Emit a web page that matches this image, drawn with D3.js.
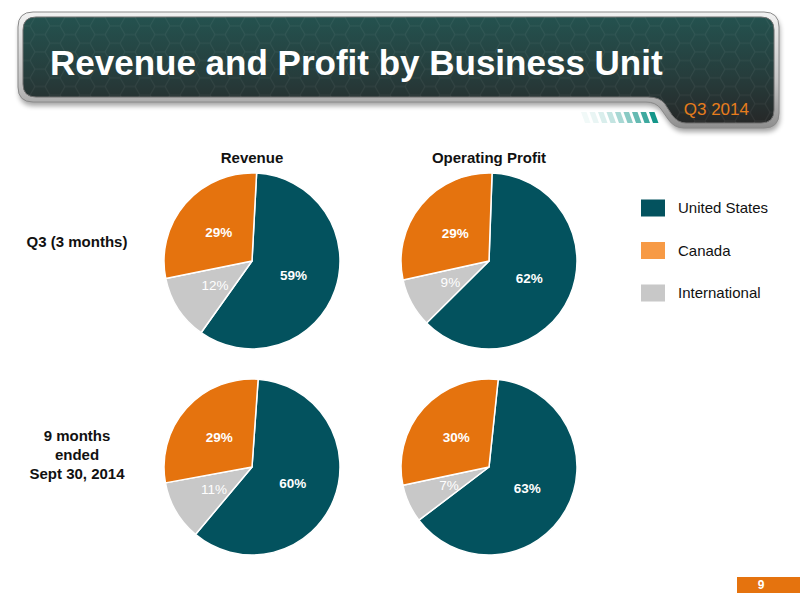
<!DOCTYPE html>
<html>
<head>
<meta charset="utf-8">
<script src="https://cdn.jsdelivr.net/npm/d3@7"></script>
<style>
  html, body { margin: 0; padding: 0; background: #ffffff; }
  svg { display: block; font-family: "Liberation Sans", Arial, Helvetica, sans-serif; }
</style>
</head>
<body>
<svg id="chart" width="800" height="600"></svg>
<script>
// ---- data ----
const title = "Revenue and Profit by Business Unit";
const subtitle = "Q3 2014";
const pageNumber = "9";
const units = ["United States", "International", "Canada"];      // clockwise slice order
const legendOrder = ["United States", "Canada", "International"];
const columns = ["Revenue", "Operating Profit"];
const rows = ["Q3 (3 months)", "9 months ended Sept 30, 2014"];
const rowLabelLines = [["Q3 (3 months)"], ["9 months", "ended", "Sept 30, 2014"]];
const revenueQ3 = [59, 12, 29];
const profitQ3 = [62, 9, 29];
const revenue9M = [60, 11, 29];
const profit9M = [63, 7, 30];
const firstSliceAngle = [3, 2, 4, 6]; // degrees, per pie
const pies = [
  { row: rows[0], col: columns[0], values: revenueQ3 },
  { row: rows[0], col: columns[1], values: profitQ3 },
  { row: rows[1], col: columns[0], values: revenue9M },
  { row: rows[1], col: columns[1], values: profit9M }
];

// ---- styles ----
const pieColor = d3.scaleOrdinal().domain(units).range(["#03525e", "#c8c8c8", "#e5730e"]);
const legendColor = d3.scaleOrdinal().domain(units).range(["#03525e", "#c8c8c8", "#f79a45"]);

const svg = d3.select("#chart");
const defs = svg.append("defs");

// ---- header ----
const panelGrad = defs.append("linearGradient").attr("id", "panelGrad")
  .attr("x1", 0).attr("y1", 0).attr("x2", 0).attr("y2", 1);
panelGrad.append("stop").attr("offset", "0%").attr("stop-color", "#24524f");
panelGrad.append("stop").attr("offset", "55%").attr("stop-color", "#263d3c");
panelGrad.append("stop").attr("offset", "100%").attr("stop-color", "#262828");

const frameGrad = defs.append("linearGradient").attr("id", "frameGrad")
  .attr("x1", 0).attr("y1", 0).attr("x2", 0).attr("y2", 1);
frameGrad.append("stop").attr("offset", "0%").attr("stop-color", "#f2f2f2");
frameGrad.append("stop").attr("offset", "60%").attr("stop-color", "#c4c4c4");
frameGrad.append("stop").attr("offset", "100%").attr("stop-color", "#8e8e8e");

const shadow = defs.append("filter").attr("id", "shadow")
  .attr("x", "-5%").attr("y", "-10%").attr("width", "110%").attr("height", "130%");
shadow.append("feGaussianBlur").attr("in", "SourceAlpha").attr("stdDeviation", 2.5);

// hexagon pattern
const hex = defs.append("pattern").attr("id", "hex").attr("patternUnits", "userSpaceOnUse")
  .attr("width", 30).attr("height", 17.3);
hex.append("path")
  .attr("d", "M0,8.66 L5,0 L15,0 L20,8.66 L15,17.32 L5,17.32 Z M20,8.66 L30,8.66")
  .attr("fill", "none").attr("stroke", "rgba(255,255,255,0.06)").attr("stroke-width", 1);

const outerPath = "M33,12 H764 Q779,12 779,27 V113 Q779,128 764,128 H684 Q674,128 668,119 L661,109 Q656,102 646,102 H33 Q18,102 18,87 V27 Q18,12 33,12 Z";
const innerPath = "M36,17 H761 Q774,17 774,30 V110 Q774,123 761,123 H686 Q678,123 672,115 L665,104 Q660,97 648,97 H36 Q23,97 23,84 V30 Q23,17 36,17 Z";

svg.append("path").attr("d", outerPath).attr("transform", "translate(1,4)")
  .attr("fill", "#000").attr("opacity", 0.35).attr("filter", "url(#shadow)");
svg.append("path").attr("d", outerPath).attr("fill", "url(#frameGrad)")
  .attr("stroke", "#8a8a8a").attr("stroke-width", 1);
svg.append("path").attr("d", innerPath).attr("fill", "url(#panelGrad)")
  .attr("stroke", "#6e6e6e").attr("stroke-width", 1);
svg.append("path").attr("d", innerPath).attr("fill", "url(#hex)");

// stripes (decoration)
const stripeIdx = d3.range(9);
svg.append("g").selectAll("path").data(stripeIdx).join("path")
  .attr("d", i => {
    const sx = 585 + i * 8.5;
    return `M${sx},123 L${sx + 5.5},123 L${sx + 1.5},112 L${sx - 4},112 Z`;
  })
  .attr("fill", "#14968a")
  .attr("opacity", i => 0.06 + 0.94 * Math.pow(i / 8, 1.6));

svg.append("text").attr("x", 50).attr("y", 75)
  .attr("fill", "#ffffff").attr("font-size", 35).attr("font-weight", "bold")
  .text(title);
svg.append("text").attr("x", 749).attr("y", 115).attr("text-anchor", "end")
  .attr("fill", "#e77d1c").attr("font-size", 17)
  .text(subtitle);

// ---- grid scales ----
const x = d3.scalePoint().domain(columns).range([252, 489]);
const y = d3.scalePoint().domain(rows).range([261, 467]);
const radius = 88;

svg.append("g").selectAll("text").data(columns).join("text")
  .attr("x", d => x(d)).attr("y", 163).attr("text-anchor", "middle")
  .attr("font-size", 15).attr("font-weight", "bold").attr("fill", "#111")
  .text(d => d);

const rowLabelY = [242, 436];
rows.forEach((r, ri) => {
  const t = svg.append("text").attr("x", 77).attr("text-anchor", "middle")
    .attr("font-size", 15).attr("font-weight", "bold").attr("fill", "#111");
  rowLabelLines[ri].forEach((line, li) => {
    t.append("tspan").attr("x", 77).attr("y", rowLabelY[ri] + 5 + li * 19).text(line);
  });
});

// ---- pies ----
const arc = d3.arc().innerRadius(0).outerRadius(radius);
pies.forEach((p, pi) => {
  const start = firstSliceAngle[pi] * Math.PI / 180;
  const pie = d3.pie().sort(null).value(d => d.v)
    .startAngle(start).endAngle(start + 2 * Math.PI);
  const arcs = pie(units.map((u, i) => ({ u, v: p.values[i] })));
  const g = svg.append("g").attr("transform", `translate(${x(p.col)},${y(p.row)})`);
  g.selectAll("path").data(arcs).join("path")
    .attr("d", arc)
    .attr("fill", d => pieColor(d.data.u))
    .attr("stroke", "#ffffff").attr("stroke-width", 1.5).attr("stroke-linejoin", "round");
  g.selectAll("text").data(arcs).join("text")
    .attr("transform", d => `translate(${arc.centroid(d)})`)
    .attr("text-anchor", "middle").attr("dy", "0.35em")
    .attr("font-size", 13.5)
    .attr("font-weight", d => d.data.u === "International" ? "normal" : "bold")
    .attr("fill", "#ffffff")
    .text(d => d.data.v + "%");
});

// ---- legend ----
const ly = d3.scalePoint().domain(legendOrder).range([208, 293]);
const lg = svg.append("g");
lg.selectAll("rect").data(legendOrder).join("rect")
  .attr("x", 641).attr("y", d => ly(d) - 8.5).attr("width", 24).attr("height", 17)
  .attr("fill", d => legendColor(d));
lg.selectAll("text").data(legendOrder).join("text")
  .attr("x", 678).attr("y", d => ly(d)).attr("dy", "0.35em")
  .attr("font-size", 15).attr("fill", "#111")
  .text(d => d);

// ---- page number ----
svg.append("rect").attr("x", 737).attr("y", 577).attr("width", 63).attr("height", 16)
  .attr("fill", "#e5730e");
svg.append("text").attr("x", 761).attr("y", 585).attr("dy", "0.36em")
  .attr("text-anchor", "middle").attr("font-size", 12).attr("font-weight", "bold")
  .attr("fill", "#ffffff").text(pageNumber);
</script>
</body>
</html>
